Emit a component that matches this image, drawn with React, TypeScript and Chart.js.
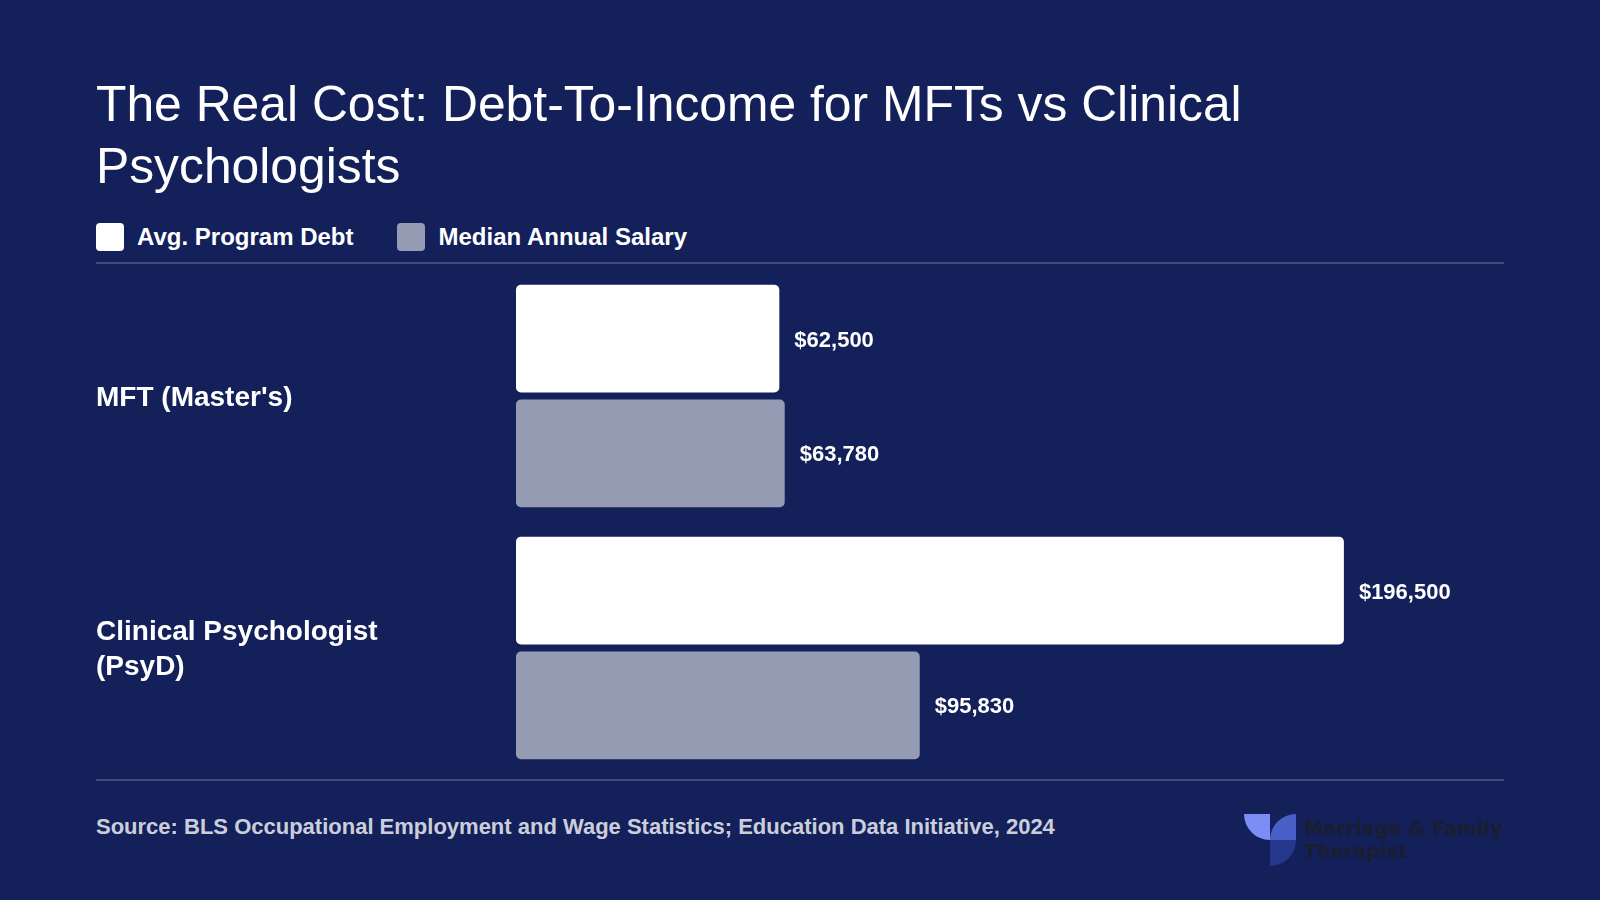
import React, { useEffect, useRef } from "react";
import { Chart, registerables } from "chart.js";

Chart.register(...registerables);

// Data
const categories: string[][] = [["MFT (Master's)"], ["Clinical Psychologist", "(PsyD)"]];
const seriesNames = ["Avg. Program Debt", "Median Annual Salary"];
const programDebt = [62500, 196500];
const medianSalary = [63780, 95830];
const seriesColors = ["#ffffff", "#969bb4"];
const xMax = 234500;

const titleText = "The Real Cost: Debt-To-Income for MFTs vs Clinical Psychologists";
const sourceText =
  "Source: BLS Occupational Employment and Wage Statistics; Education Data Initiative, 2024";

const BG = "#13205a";
const SANS = "'Liberation Sans', Arial, Helvetica, sans-serif";

// Writes "$62,500" style labels just past the end of each bar
const valueLabels = {
  id: "valueLabels",
  afterDatasetsDraw(chart: any) {
    const { ctx } = chart;
    ctx.save();
    ctx.font = `bold 22px ${SANS}`;
    ctx.fillStyle = "#ffffff";
    ctx.textAlign = "left";
    ctx.textBaseline = "middle";
    chart.data.datasets.forEach((ds: any, di: number) => {
      const meta = chart.getDatasetMeta(di);
      meta.data.forEach((el: any, i: number) => {
        const v = ds.data[i] as number;
        ctx.fillText("$" + v.toLocaleString("en-US"), el.x + 15, el.y + 2);
      });
    });
    ctx.restore();
  },
};

function BarChart() {
  const canvasRef = useRef<HTMLCanvasElement | null>(null);

  useEffect(() => {
    if (!canvasRef.current) return;
    const chart = new Chart(canvasRef.current, {
      type: "bar",
      data: {
        labels: categories,
        datasets: [
          {
            label: seriesNames[0],
            data: programDebt,
            backgroundColor: seriesColors[0],
            borderRadius: 5,
            borderSkipped: false,
            categoryPercentage: 0.911,
            barPercentage: 0.937,
          },
          {
            label: seriesNames[1],
            data: medianSalary,
            backgroundColor: seriesColors[1],
            borderRadius: 5,
            borderSkipped: false,
            categoryPercentage: 0.911,
            barPercentage: 0.937,
          },
        ],
      },
      options: {
        indexAxis: "y",
        animation: false,
        responsive: true,
        maintainAspectRatio: false,
        layout: { padding: { top: 7, bottom: 6, left: 0, right: 0 } },
        plugins: {
          legend: { display: false },
          tooltip: { enabled: false },
          title: { display: false },
        },
        scales: {
          x: {
            display: false,
            min: 0,
            max: xMax,
            grid: { display: false },
          },
          y: {
            grid: { display: false },
            border: { display: false },
            ticks: {
              color: "#ffffff",
              crossAlign: "far",
              padding: 0,
              labelOffset: 2,
              font: { family: SANS, size: 28, weight: "bold", lineHeight: 1.25 },
            },
            afterFit(scale: any) {
              scale.width = 420;
              scale.paddingTop = 0;
              scale.paddingBottom = 0;
            },
          },
        },
      },
      plugins: [valueLabels],
    } as any);
    return () => chart.destroy();
  }, []);

  return (
    <div style={{ position: "absolute", left: 96, top: 263, width: 1408, height: 517 }}>
      <canvas ref={canvasRef} />
    </div>
  );
}

function Logo() {
  return (
    <>
      <svg
        width={52}
        height={52}
        viewBox="0 0 52 52"
        style={{ position: "absolute", left: 1244, top: 814 }}
      >
        <path d="M26 0 L0 0 A26 26 0 0 0 26 26 Z" fill="#7b8ef5" />
        <path d="M52 26 L26 26 A26 26 0 0 1 52 0 Z" fill="#4b5fc8" />
        <path d="M26 26 L52 26 A26 26 0 0 1 26 52 Z" fill="#25378d" />
      </svg>
      <div
        style={{
          position: "absolute",
          left: 1304,
          top: 817,
          fontFamily: "'DejaVu Sans', sans-serif",
          fontWeight: 700,
          fontSize: 19.3,
          lineHeight: "23px",
          color: "#1b1d30",
          whiteSpace: "nowrap",
        }}
      >
        Marriage &amp; Family
        <br />
        Therapist
      </div>
    </>
  );
}

export default function App() {
  return (
    <div
      style={{
        position: "fixed",
        left: 0,
        top: 0,
        width: 1600,
        height: 900,
        background: BG,
        overflow: "hidden",
        fontFamily: SANS,
      }}
    >
      <div
        style={{
          position: "absolute",
          left: 96,
          top: 73,
          width: 1408,
          fontSize: 49.8,
          lineHeight: "62px",
          color: "#ffffff",
          fontWeight: 400,
        }}
      >
        {titleText}
      </div>

      <div
        style={{
          position: "absolute",
          left: 96,
          top: 223,
          height: 28,
          display: "flex",
          alignItems: "center",
        }}
      >
        {seriesNames.map((name, i) => (
          <div key={name} style={{ display: "flex", alignItems: "center", marginRight: 44 }}>
            <div
              style={{
                width: 28,
                height: 28,
                borderRadius: 4,
                background: seriesColors[i],
                marginRight: 13,
              }}
            />
            <span style={{ fontSize: 24, fontWeight: 700, color: "#ffffff", lineHeight: "28px" }}>
              {name}
            </span>
          </div>
        ))}
      </div>

      <div
        style={{
          position: "absolute",
          left: 96,
          top: 262,
          width: 1408,
          height: 2,
          background: "rgba(255,255,255,0.2)",
        }}
      />

      <BarChart />

      <div
        style={{
          position: "absolute",
          left: 96,
          top: 779,
          width: 1408,
          height: 2,
          background: "rgba(255,255,255,0.2)",
        }}
      />

      <div
        style={{
          position: "absolute",
          left: 96,
          top: 814,
          fontSize: 22,
          fontWeight: 700,
          lineHeight: "26px",
          color: "rgba(255,255,255,0.8)",
          whiteSpace: "nowrap",
        }}
      >
        {sourceText}
      </div>

      <Logo />
    </div>
  );
}
